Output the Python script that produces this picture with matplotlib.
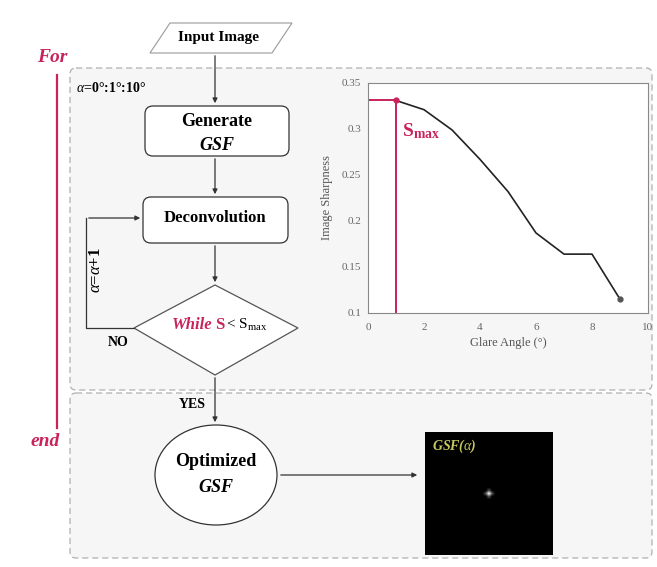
import numpy as np
import matplotlib
matplotlib.use("Agg")
from matplotlib import pyplot as plt
from matplotlib.patches import FancyBboxPatch, Polygon, Ellipse

plt.rcParams['font.family'] = ['Liberation Serif', 'DejaVu Serif']
plt.rcParams['mathtext.fontset'] = 'custom'
plt.rcParams['mathtext.rm'] = 'Liberation Serif'
plt.rcParams['mathtext.it'] = 'Liberation Serif:italic'
plt.rcParams['mathtext.bf'] = 'Liberation Serif:bold'

# sharpness curve
glare_angle = [1, 2, 3, 4, 5, 6, 7, 8, 9]
sharpness = [0.331, 0.321, 0.299, 0.267, 0.232, 0.187, 0.164, 0.164, 0.115]
s_max = 0.331
best_angle = 1
x_ticks = [0, 2, 4, 6, 8, 10]
y_ticks = [0.1, 0.15, 0.2, 0.25, 0.3, 0.35]
y_ticklabels = ['0.1', '0.15', '0.2', '0.25', '0.3', '0.35']

# GSF thumbnail: dark frame with one bright spot in the middle
gsf_img = np.zeros((41, 41))
gsf_img[20, 20] = 0.9
gsf_img[19, 20] = 0.3
gsf_img[21, 20] = 0.3
gsf_img[20, 19] = 0.3
gsf_img[20, 21] = 0.3

red = '#c8245c'
W, H = 657, 567

fig = plt.figure(figsize=(W / 100, H / 100), dpi=100)
ax = fig.add_axes([0, 0, 1, 1])
ax.set_xlim(0, W)
ax.set_ylim(H, 0)
ax.axis('off')

# dashed loop regions
ax.add_patch(FancyBboxPatch((70, 68), 582, 322, boxstyle='round,pad=0,rounding_size=6',
                            fc='#f6f6f6', ec='#b0b0b0', lw=0.9, ls=(0, (5, 3))))
ax.add_patch(FancyBboxPatch((70, 393), 582, 165, boxstyle='round,pad=0,rounding_size=6',
                            fc='#f6f6f6', ec='#b0b0b0', lw=0.9, ls=(0, (5, 3))))

# for / end bracket
ax.text(52, 58, 'For', color=red, fontsize=14, fontweight='bold', style='italic',
        ha='center', va='center')
ax.plot([57, 57], [75, 428], color=red, lw=1.6)
ax.text(45, 442, 'end', color=red, fontsize=14, fontweight='bold', style='italic',
        ha='center', va='center')
ax.text(76, 88, r'$\alpha$=0°:1°:10°', fontsize=10, fontweight='bold', ha='left', va='center')

# input parallelogram
ax.add_patch(Polygon([(170, 23), (292, 23), (272, 53), (150, 53)], closed=True,
                     fc='white', ec='#999999', lw=0.8))
ax.text(219, 38, 'Input Image', fontsize=11, fontweight='bold', ha='center', va='center')

# generate box
ax.add_patch(FancyBboxPatch((145, 106), 144, 50, boxstyle='round,pad=0,rounding_size=8',
                            fc='white', ec='#333333', lw=0.9))
ax.text(217, 122, 'Generate', fontsize=13, fontweight='bold', ha='center', va='center')
ax.text(217, 145, 'GSF', fontsize=13, fontweight='bold', style='italic', ha='center', va='center')

# deconvolution box
ax.add_patch(FancyBboxPatch((143, 197), 145, 46, boxstyle='round,pad=0,rounding_size=8',
                            fc='white', ec='#333333', lw=0.9))
ax.text(215, 218, 'Deconvolution', fontsize=12, fontweight='bold', ha='center', va='center')

# decision diamond
ax.add_patch(Polygon([(215, 285), (298, 328), (215, 375), (134, 328)], closed=True,
                     fc='white', ec='#555555', lw=0.9))
ax.text(212, 325, 'While', color=red, fontsize=12, fontweight='bold', style='italic',
        ha='right', va='center')
ax.text(215, 325, 'S', color=red, fontsize=12, fontweight='bold', ha='left', va='center')
ax.text(226, 325, r'< S$_{\mathrm{max}}$', fontsize=11, ha='left', va='center')

# optimized GSF circle
ax.add_patch(Ellipse((216, 475), 122, 100, fc='white', ec='#333333', lw=0.9))
ax.text(216, 462, 'Optimized', fontsize=13, fontweight='bold', ha='center', va='center')
ax.text(216, 487, 'GSF', fontsize=13, fontweight='bold', style='italic', ha='center', va='center')

# arrows
arrow = dict(arrowstyle='-|>', color='#333333', lw=0.9, mutation_scale=7)
for y0, y1 in [(53, 106), (156, 197), (243, 285), (375, 425)]:
    ax.annotate('', xy=(215, y1), xytext=(215, y0), arrowprops=arrow)
ax.annotate('', xy=(420, 475), xytext=(278, 475), arrowprops=arrow)
ax.plot([134, 86, 86], [328, 328, 218], color='#333333', lw=0.9)
ax.annotate('', xy=(143, 218), xytext=(86, 218), arrowprops=arrow)
ax.text(96, 270, r'$\alpha$=$\alpha$+1', fontsize=12, fontweight='bold', rotation=90,
        ha='center', va='center')
ax.text(118, 343, 'NO', fontsize=10, fontweight='bold', ha='center', va='center')
ax.text(192, 405, 'YES', fontsize=10, fontweight='bold', ha='center', va='center')

# GSF thumbnail
ax.imshow(gsf_img, cmap='gray', extent=(425, 553, 555, 432), interpolation='bilinear', zorder=3)
ax.text(432, 446, r'GSF($\alpha$)', color='#c8c860', fontsize=10, fontweight='bold',
        style='italic', ha='left', va='center', zorder=4)

# sharpness inset
ins = fig.add_axes([368 / W, 1 - 313 / H, 280 / W, 230 / H])
ins.set_facecolor('white')
ins.plot(glare_angle, sharpness, color='#222222', lw=1.2)
ins.plot([0, best_angle], [s_max, s_max], color=red, lw=1.4)
ins.plot([best_angle, best_angle], [0.1, s_max], color=red, lw=1.4)
ins.plot(glare_angle[0], sharpness[0], 'o', color=red, ms=3.5)
ins.plot(glare_angle[-1], sharpness[-1], 'o', color='#555555', ms=3.5)
ins.text(1.2, 0.298, r'$\mathbf{S}_{\mathbf{max}}$', color=red, fontsize=14,
         ha='left', va='center')
ins.set_xlim(0, 10)
ins.set_ylim(0.1, 0.35)
ins.set_xticks(x_ticks)
ins.set_yticks(y_ticks)
ins.set_yticklabels(y_ticklabels)
ins.tick_params(labelsize=8, colors='#666666', length=0)
ins.tick_params(axis='x', pad=7)
ins.tick_params(axis='y', pad=5)
for s in ins.spines.values():
    s.set_color('#888888')
    s.set_linewidth(0.8)
ins.set_xlabel('Glare Angle (°)', fontsize=9, color='#555555', labelpad=4)
ins.set_ylabel('Image Sharpness', fontsize=9, color='#555555', labelpad=6)

fig.savefig('out.png', dpi=100, facecolor='white')
